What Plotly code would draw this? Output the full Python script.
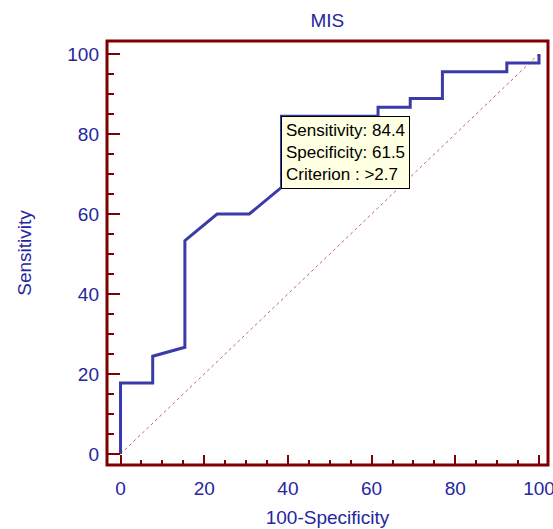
import plotly.graph_objects as go

# ROC curve for MIS (100-Specificity vs Sensitivity)
fpr = [0, 0, 7.69, 7.69, 15.38, 15.38, 23.08, 30.77, 38.46, 38.46, 61.54, 61.54,
       69.23, 69.23, 76.92, 76.92, 92.31, 92.31, 100, 100]
sens = [0, 17.78, 17.78, 24.44, 26.67, 53.33, 60, 60, 66.67, 84.44, 84.44, 86.67,
        86.67, 88.89, 88.89, 95.56, 95.56, 97.78, 97.78, 100]
diag_x = [0, 100]
diag_y = [0, 100]
tick_vals = [0, 20, 40, 60, 80, 100]
tick_text = ["0", "20", "40", "60", "80", "100"]
crit_x = 38.46
crit_y = 84.44
crit_text = ["Sensitivity: 84.4", "Specificity: 61.5", "Criterion : >2.7"]

BLUE_TXT = "#2626a0"
BLUE_LINE = "#3b3ba8"
MAROON = "#7f0000"
FONT = "Liberation Sans, Arial, sans-serif"

fig = go.Figure()
fig.add_trace(go.Scatter(x=diag_x, y=diag_y, mode="lines",
                         line=dict(color="#c86464", width=1, dash="dot"),
                         hoverinfo="skip", showlegend=False))
fig.add_trace(go.Scatter(x=fpr, y=sens, mode="lines",
                         line=dict(color=BLUE_LINE, width=3),
                         showlegend=False))

fig.add_annotation(x=crit_x, y=crit_y, xref="x", yref="y",
                   xanchor="left", yanchor="top", align="left",
                   text="<br>".join(crit_text), showarrow=False,
                   font=dict(family=FONT, size=17, color="black"),
                   bgcolor="#ffffe1", bordercolor="black", borderwidth=1,
                   borderpad=4)

# plot frame
fig.add_shape(type="rect", xref="paper", yref="paper", x0=0, x1=1, y0=0, y1=1,
              line=dict(color=MAROON, width=3), layer="above")

axis_common = dict(
    showgrid=False, zeroline=False, showline=False, automargin=False,
    ticks="inside", tickcolor=MAROON, tickwidth=2,
    tickvals=tick_vals, ticktext=tick_text, ticklabeloverflow="allow",
    tickfont=dict(family=FONT, size=19, color=BLUE_TXT),
)

fig.update_xaxes(**axis_common, range=[-3.23, 102.15], ticklen=10,
                 ticklabelstandoff=10,
                 minor=dict(dtick=5, tick0=0, ticks="inside", ticklen=5,
                            tickcolor=MAROON, tickwidth=2),
                 title=dict(text="100-Specificity",
                            font=dict(family=FONT, size=19, color=BLUE_TXT),
                            standoff=12))
fig.update_yaxes(**axis_common, range=[-2.75, 103.25], ticklen=13,
                 ticklabelstandoff=7,
                 minor=dict(dtick=5, tick0=0, ticks="inside", ticklen=7,
                            tickcolor=MAROON, tickwidth=2),
                 title=dict(text="Sensitivity",
                            font=dict(family=FONT, size=19, color=BLUE_TXT),
                            standoff=30))

fig.update_layout(
    width=553, height=529,
    margin=dict(l=107, r=5, t=41, b=64),
    plot_bgcolor="white", paper_bgcolor="white",
    title=dict(text="MIS", x=0.592, xanchor="center", y=0.962, yanchor="middle",
               font=dict(family=FONT, size=19, color=BLUE_TXT)),
)

fig.write_html("out.html", config={"displayModeBar": False},
               post_script="document.body.style.margin='0';document.body.style.padding='0';")
